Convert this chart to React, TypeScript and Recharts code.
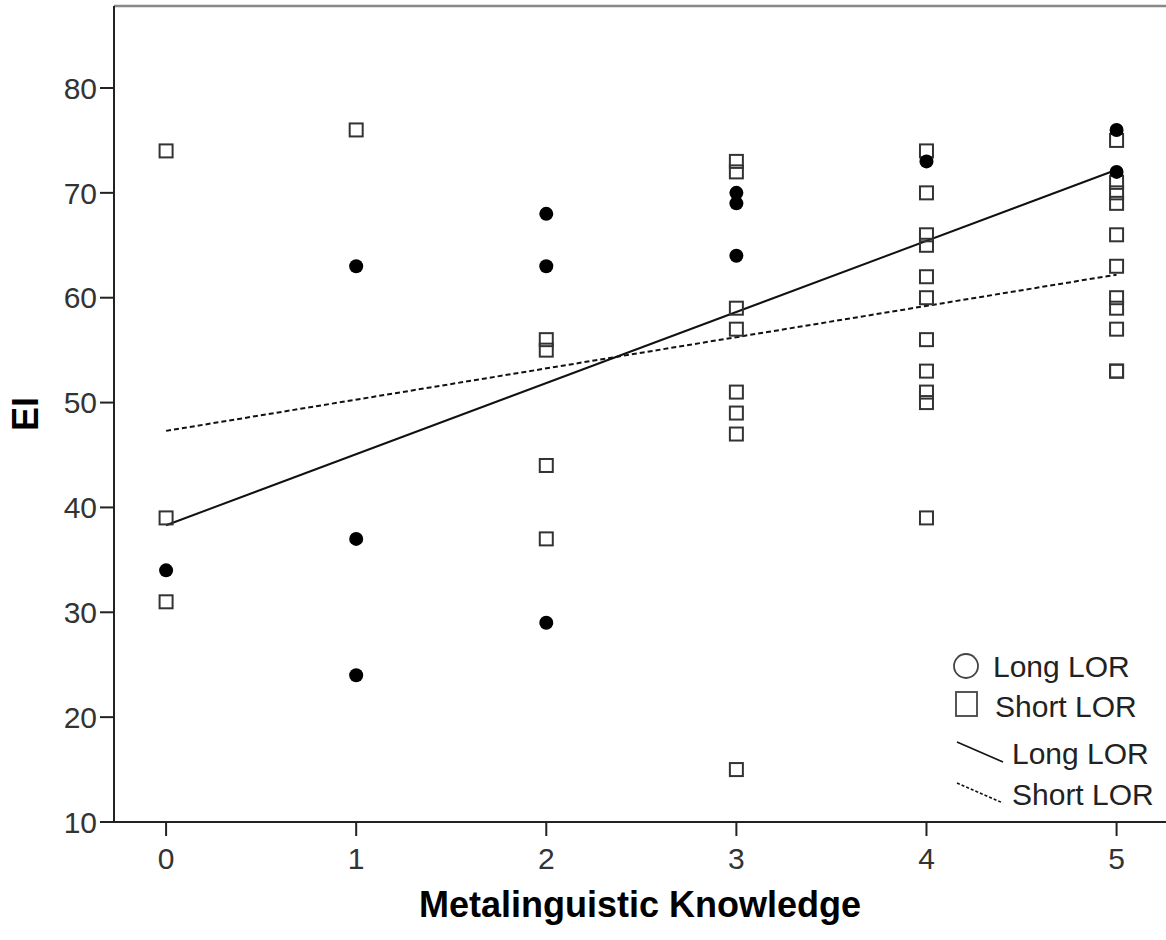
import React from 'react';
import {
  ScatterChart,
  Scatter,
  XAxis,
  YAxis,
  Legend,
  ReferenceLine,
} from 'recharts';

// Long LOR observations (filled circles)
const longX = [0, 1, 1, 1, 2, 2, 2, 3, 3, 3, 4, 5, 5];
const longY = [34, 63, 37, 24, 68, 63, 29, 70, 69, 64, 73, 76, 72];

// Short LOR observations (hollow squares)
const shortX = [
  0, 0, 0,
  1,
  2, 2, 2, 2,
  3, 3, 3, 3, 3, 3, 3, 3,
  4, 4, 4, 4, 4, 4, 4, 4, 4, 4, 4,
  5, 5, 5, 5, 5, 5, 5, 5, 5, 5, 5,
];
const shortY = [
  74, 39, 31,
  76,
  56, 55, 44, 37,
  73, 72, 59, 57, 51, 49, 47, 15,
  74, 70, 66, 65, 62, 60, 56, 53, 51, 50, 39,
  75, 71, 70, 69, 66, 63, 60, 59, 57, 53, 53,
];

// Fit lines (end points)
const fitX = [0, 5];
const longFitY = [38.3, 72.2];
const shortFitY = [47.3, 62.2];

const xTicks = [0, 1, 2, 3, 4, 5];
const yTicks = [10, 20, 30, 40, 50, 60, 70, 80];
const yMax = 87.82;

const longPoints = longX.map((x, i) => ({ x, y: longY[i] }));
const shortPoints = shortX.map((x, i) => ({ x, y: shortY[i] }));
const longFit = fitX.map((x, i) => ({ x, y: longFitY[i] }));
const shortFit = fitX.map((x, i) => ({ x, y: shortFitY[i] }));

const FONT = '"Liberation Sans", Arial, sans-serif';

const SquareShape = (props: any) => {
  const { cx, cy } = props;
  if (cx == null || cy == null) return <g />;
  return (
    <rect
      x={cx - 6.5}
      y={cy - 6.5}
      width={13}
      height={13}
      fill="none"
      stroke="#333"
      strokeWidth={2}
    />
  );
};

const DotShape = (props: any) => {
  const { cx, cy } = props;
  if (cx == null || cy == null) return <g />;
  return <circle cx={cx} cy={cy} r={7} fill="#000" />;
};

const EmptyShape = () => <g />;

const renderLegend = () => (
  <svg width={216} height={175} style={{ fontFamily: FONT, display: 'block' }}>
    <circle cx={16} cy={21} r={12} fill="none" stroke="#444" strokeWidth={1.8} />
    <text x={43} y={32} fontSize={30} fill="#222">Long LOR</text>
    <rect x={6} y={47} width={21} height={24} fill="none" stroke="#444" strokeWidth={1.8} />
    <text x={45} y={72} fontSize={30} fill="#222">Short LOR</text>
    <line x1={7} y1={97} x2={53} y2={117} stroke="#111" strokeWidth={1.6} />
    <text x={62} y={119} fontSize={30} fill="#222">Long LOR</text>
    <line x1={7} y1={138} x2={53} y2={158} stroke="#111" strokeWidth={1.6} strokeDasharray="3 2" />
    <text x={62} y={160} fontSize={30} fill="#222">Short LOR</text>
  </svg>
);

const YLabel = (props: any) => {
  const vb = props.viewBox || {};
  const cy = (vb.y ?? 6) + (vb.height ?? 816) / 2;
  return (
    <text
      x={38}
      y={cy}
      transform={`rotate(-90 38 ${cy})`}
      textAnchor="middle"
      fontSize={36}
      fontWeight="bold"
      fontFamily={FONT}
      fill="#000"
    >
      EI
    </text>
  );
};

export default function App() {
  return (
    <div style={{ position: 'absolute', left: 0, top: 0, width: 1166, height: 940, background: '#fff' }}>
      <ScatterChart
        width={1166}
        height={940}
        margin={{ top: 6, right: 0, bottom: 0, left: 0 }}
        style={{ fontFamily: FONT }}
      >
        <XAxis
          type="number"
          dataKey="x"
          domain={[-0.274, 5.26]}
          allowDataOverflow
          ticks={xTicks}
          height={118}
          tickSize={14}
          tickMargin={12}
          stroke="#222"
          strokeWidth={2}
          tick={{ fontSize: 30, fill: '#333', fontFamily: FONT }}
          label={{
            value: 'Metalinguistic Knowledge',
            position: 'insideBottom',
            offset: 23,
            style: { fontSize: 36, fontWeight: 'bold', fill: '#000', fontFamily: FONT },
          }}
        />
        <YAxis
          type="number"
          dataKey="y"
          domain={[10, yMax]}
          allowDataOverflow
          ticks={yTicks}
          width={114}
          tickSize={14}
          tickMargin={3}
          stroke="#222"
          strokeWidth={2}
          tick={{ fontSize: 30, fill: '#333', fontFamily: FONT }}
          label={<YLabel />}
        />
        <ReferenceLine y={yMax} stroke="#888" strokeWidth={2.5} ifOverflow="visible" />
        <Scatter
          name="Long LOR fit"
          data={longFit}
          line={{ stroke: '#111', strokeWidth: 2 }}
          lineType="joint"
          shape={EmptyShape}
          isAnimationActive={false}
        />
        <Scatter
          name="Short LOR fit"
          data={shortFit}
          line={{ stroke: '#111', strokeWidth: 2, strokeDasharray: '5 3' }}
          lineType="joint"
          shape={EmptyShape}
          isAnimationActive={false}
        />
        <Scatter
          name="Short LOR"
          data={shortPoints}
          shape={SquareShape}
          isAnimationActive={false}
        />
        <Scatter
          name="Long LOR"
          data={longPoints}
          shape={DotShape}
          isAnimationActive={false}
        />
        <Legend
          layout="horizontal"
          align="center"
          verticalAlign="middle"
          content={renderLegend}
          wrapperStyle={{ position: 'absolute', left: 950, top: 645, width: 216, height: 175, bottom: 'auto', right: 'auto', margin: 0 }}
        />
      </ScatterChart>
    </div>
  );
}
